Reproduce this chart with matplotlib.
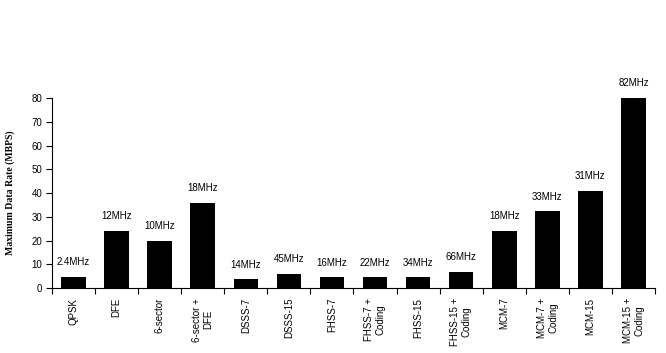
import matplotlib
matplotlib.use("Agg")
import matplotlib.pyplot as plt
import numpy as np

# data
categories = ["QPSK", "DFE", "6-sector", "6-sector +\nDFE", "DSSS-7", "DSSS-15",
              "FHSS-7", "FHSS-7 +\nCoding", "FHSS-15", "FHSS-15 +\nCoding",
              "MCM-7", "MCM-7 +\nCoding", "MCM-15", "MCM-15 +\nCoding"]
rates = [4.8, 24, 20, 36, 3.7, 5.9, 4.5, 4.5, 4.5, 6.7, 24, 32.3, 41, 80]
bandwidths = ["2.4MHz", "12MHz", "10MHz", "18MHz", "14MHz", "45MHz", "16MHz",
              "22MHz", "34MHz", "66MHz", "18MHz", "33MHz", "31MHz", "82MHz"]
y_ticks = [0, 10, 20, 30, 40, 50, 60, 70, 80]

fig = plt.figure(figsize=(6.66, 3.53), dpi=100)
ax = fig.add_axes([0.078, 0.184, 0.9055, 0.5384])

x = np.arange(len(categories))
bars = ax.bar(x, rates, width=0.57, color="black")

for b, txt in zip(bars, bandwidths):
    ax.annotate(txt, (b.get_x() + b.get_width() / 2, b.get_height()),
                xytext=(0, 7), textcoords="offset points", ha="center", va="bottom",
                fontsize=7, family="Liberation Sans")

ax.set_xlim(-0.5, len(categories) - 0.5)
ax.set_ylim(0, 80)
ax.set_yticks(y_ticks)
ax.set_xticks(x)
ax.set_xticklabels(categories, rotation=90, ha="center", va="top",
                   fontsize=7, family="Liberation Sans")
ax.set_xticks(np.arange(-0.5, len(categories)), minor=True)
ax.tick_params(axis="x", which="major", length=0, pad=7)
ax.tick_params(axis="x", which="minor", length=4, direction="out", width=0.8)
ax.tick_params(axis="y", length=4, direction="out", width=0.8, labelsize=7, pad=3)
for lbl in ax.get_yticklabels():
    lbl.set_family("Liberation Sans")

for s in ["top", "right"]:
    ax.spines[s].set_visible(False)
ax.spines["left"].set_linewidth(0.8)
ax.spines["bottom"].set_linewidth(0.8)

ax.set_ylabel("Maximum Data Rate (MBPS)", family="Liberation Serif",
              fontweight="bold", fontsize=7)
ax.yaxis.set_label_coords(-0.061, 0.5)

fig.savefig("out.png", dpi=100)
